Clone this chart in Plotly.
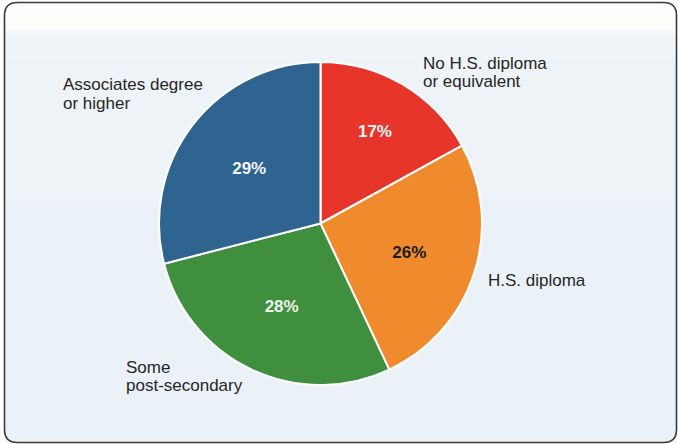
import plotly.graph_objects as go

# Educational attainment shares
categories = ["No H.S. diploma\nor equivalent", "H.S. diploma",
              "Some\npost-secondary", "Associates degree\nor higher"]
shares = [17, 26, 28, 29]
slice_colors = ["#e8352c", "#ef8b2c", "#408f3f", "#2f6491"]
pct_colors = ["#f4f4f4", "#1c1c1c", "#eef3ee", "#f4f4f4"]

# Outer label anchors (left edge, centre of first line), in page pixels
label_pos = [(421, 63), (486, 280), (124, 367), (61, 85)]
LINE_GAP = 18.5

W, H = 678, 444


def px(x):
    return x / W


def py(y):
    return 1 - y / H


# Pie geometry in page pixels
CX, CY, R = 320.5, 223.5, 161.5

fig = go.Figure()
fig.add_trace(go.Pie(
    values=shares,
    labels=[c.replace("\n", " ") for c in categories],
    sort=False,
    direction="clockwise",
    rotation=0,
    marker=dict(colors=slice_colors, line=dict(color="white", width=2)),
    texttemplate="%{value}%",
    textposition="inside",
    insidetextorientation="horizontal",
    textfont=dict(family="Liberation Sans, Arial, sans-serif", size=17,
                  color=pct_colors, weight="bold"),
    hoverinfo="label+percent",
    showlegend=False,
    domain=dict(x=[px(CX - R), px(CX + R)], y=[py(CY + R), py(CY - R)]),
))

shapes = []
# light panel background fading in below the top strip
bands = [(30, "#fbfcfc"), (34, "#f6f9fb"), (38, "#f1f6f9"), (60, "#eef4f8"),
         (200, "#edf3f7"), (442, "#ebf2f7")]
prev = 3
for y_end, col in bands:
    shapes.append(dict(type="rect", xref="paper", yref="paper",
                       x0=px(5), x1=px(676), y0=py(y_end), y1=py(prev),
                       fillcolor=col, line=dict(width=0), layer="below"))
    prev = y_end
shapes.append(dict(type="rect", xref="paper", yref="paper",
                   x0=px(5), x1=px(676), y0=py(30), y1=py(3),
                   fillcolor="#fdfdfb", line=dict(width=0), layer="below"))

# rounded frame around the panel
x0, x1, y0, y1, r = 4.5, 676.5, 2.5, 442.5, 13
path = (f"M {px(x0 + r)},{py(y0)} L {px(x1 - r)},{py(y0)} "
        f"Q {px(x1)},{py(y0)} {px(x1)},{py(y0 + r)} "
        f"L {px(x1)},{py(y1 - r)} Q {px(x1)},{py(y1)} {px(x1 - r)},{py(y1)} "
        f"L {px(x0 + r)},{py(y1)} Q {px(x0)},{py(y1)} {px(x0)},{py(y1 - r)} "
        f"L {px(x0)},{py(y0 + r)} Q {px(x0)},{py(y0)} {px(x0 + r)},{py(y0)} Z")
shapes.append(dict(type="path", xref="paper", yref="paper", path=path,
                   line=dict(color="#3a3a3a", width=1.6), layer="above"))

annotations = []
for text, (lx, ly) in zip(categories, label_pos):
    for i, line in enumerate(text.split("\n")):
        annotations.append(dict(
            x=px(lx), y=py(ly + i * LINE_GAP), xref="paper", yref="paper",
            text=line, showarrow=False, xanchor="left", yanchor="middle",
            font=dict(family="Liberation Sans, Arial, sans-serif", size=17,
                      color="#262626")))

fig.update_layout(
    width=W, height=H,
    margin=dict(l=0, r=0, t=0, b=0),
    paper_bgcolor="white",
    plot_bgcolor="white",
    shapes=shapes,
    annotations=annotations,
)

fig.write_html("out.html")
